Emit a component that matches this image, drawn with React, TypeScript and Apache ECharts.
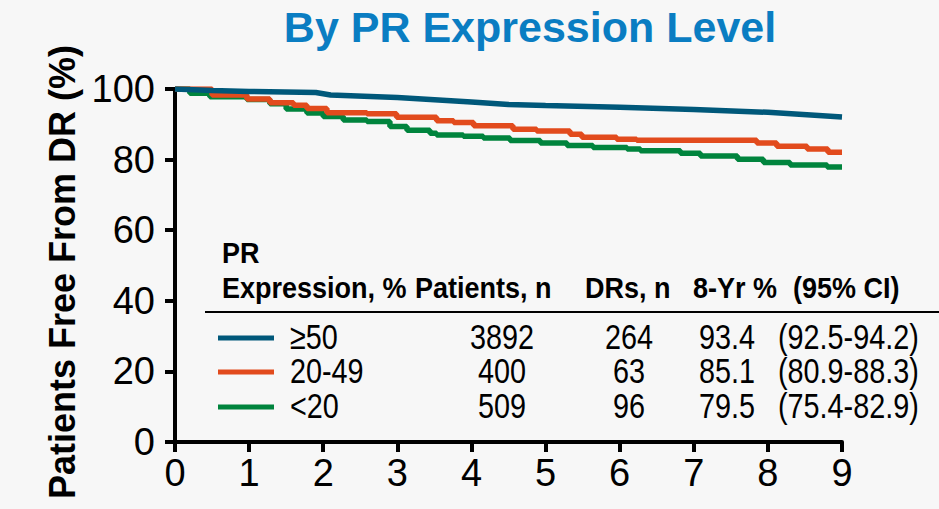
import React, { useEffect, useRef } from "react";
import * as echarts from "echarts";

const title = "By PR Expression Level";
const yAxisTitle = "Patients Free From DR (%)";
const xTicks = [0, 1, 2, 3, 4, 5, 6, 7, 8, 9];
const yTicks = [0, 20, 40, 60, 80, 100];

const seriesNames = ["≥50", "20-49", "<20"];
const seriesColors = ["#00587a", "#e24b1d", "#00843d"];

const highPR: [number, number][] = [
  [0, 100], [0.5, 99.6], [1.0, 99.3], [1.9, 99.0], [2.1, 98.3], [3, 97.6],
  [4, 96.3], [4.5, 95.6], [5, 95.3], [6, 94.8], [7, 94.2], [8, 93.4], [9, 92.1],
];
const midPR: [number, number][] = [
  [0, 100], [0.5, 98.3], [0.97, 97.2], [1.28, 96.1], [1.6, 95.4], [1.78, 94.5],
  [2.05, 93.3], [2.59, 93.0], [2.99, 92.0], [3.53, 91.0], [3.76, 90.5], [4.03, 89.6],
  [4.56, 88.6], [4.88, 88.1], [5.33, 87.2], [5.49, 86.3], [5.96, 85.8], [6.23, 85.5],
  [7.85, 84.7], [8.12, 83.8], [8.53, 83.0], [8.81, 82.1], [9, 82.1],
];
const lowPR: [number, number][] = [
  [0, 100], [0.2, 98.8], [0.47, 97.8], [0.97, 97.0], [1.28, 95.8], [1.5, 94.3],
  [1.78, 93.2], [2.0, 92.2], [2.27, 91.2], [2.59, 90.8], [2.9, 89.4], [3.13, 88.3],
  [3.44, 87.5], [3.53, 87.0], [3.89, 86.6], [4.16, 86.1], [4.52, 85.4], [4.93, 84.7],
  [5.29, 84.0], [5.64, 83.4], [6.1, 83.0], [6.28, 82.5], [6.82, 81.8], [7.09, 81.0],
  [7.59, 80.1], [7.94, 79.2], [8.3, 78.5], [8.8, 77.9], [9, 77.9],
];

const tableHeaderLine1 = "PR";
const tableHeaders = ["Expression, %", "Patients, n", "DRs, n", "8-Yr %", "(95% CI)"];
const patients = ["3892", "400", "509"];
const drs = ["264", "63", "96"];
const eightYr = ["93.4", "85.1", "79.5"];
const ci = ["(92.5-94.2)", "(80.9-88.3)", "(75.4-82.9)"];

const SANS = "'Liberation Sans', Arial, sans-serif";

export default function App() {
  const ref = useRef<HTMLDivElement>(null);
  useEffect(() => {
    if (!ref.current) return;
    const chart = echarts.init(ref.current, null, { renderer: "svg" });

    const rowY = [336, 370, 405];
    const headFont = `bold 30px ${SANS}`;
    const cellFont = `36px ${SANS}`;
    const hs = 0.9;
    const cs = 0.8;
    const headerX = [222, 415, 585, 693, 793];
    const graphics: any[] = [
      {
        type: "text", x: 530, y: 27,
        style: { text: title, fill: "#0a7dc2", font: `bold 43px ${SANS}`, textAlign: "center", textVerticalAlign: "middle" },
      },
      {
        type: "text", x: 62, y: 272, rotation: Math.PI / 2,
        style: { text: yAxisTitle, fill: "#000", font: `bold 36px ${SANS}`, textAlign: "center", textVerticalAlign: "middle" },
      },
      { type: "text", x: 222, y: 252, scaleX: hs, style: { text: tableHeaderLine1, fill: "#000", font: headFont, textVerticalAlign: "middle" } },
      { type: "line", shape: { x1: 205, y1: 312, x2: 939, y2: 312 }, style: { stroke: "#000", lineWidth: 2 } },
    ];
    tableHeaders.forEach((h, i) => {
      graphics.push({ type: "text", x: headerX[i], y: 287, scaleX: hs, style: { text: h, fill: "#000", font: headFont, textVerticalAlign: "middle" } });
    });
    seriesNames.forEach((name, i) => {
      const y = rowY[i];
      graphics.push(
        { type: "line", shape: { x1: 218, y1: y + 2, x2: 274, y2: y + 2 }, style: { stroke: seriesColors[i], lineWidth: 5 } },
        { type: "text", x: 290, y, scaleX: cs, style: { text: name, fill: "#000", font: cellFont, textVerticalAlign: "middle" } },
        { type: "text", x: 502, y, scaleX: cs, style: { text: patients[i], fill: "#000", font: cellFont, textAlign: "center", textVerticalAlign: "middle" } },
        { type: "text", x: 629, y, scaleX: cs, style: { text: drs[i], fill: "#000", font: cellFont, textAlign: "center", textVerticalAlign: "middle" } },
        { type: "text", x: 727, y, scaleX: cs, style: { text: eightYr[i], fill: "#000", font: cellFont, textAlign: "center", textVerticalAlign: "middle" } },
        { type: "text", x: 778, y, scaleX: cs, style: { text: ci[i], fill: "#000", font: cellFont, textVerticalAlign: "middle" } },
      );
    });

    const axisCommon = {
      type: "value" as const,
      axisLine: { show: true, lineStyle: { color: "#000", width: 4 } },
      axisTick: { show: true, length: 10, lineStyle: { color: "#000", width: 4 } },
      splitLine: { show: false },
    };

    chart.setOption({
      animation: false,
      backgroundColor: "#f7f7f7",
      grid: { left: 175, right: 97, top: 89, bottom: 67 },
      xAxis: {
        ...axisCommon,
        min: xTicks[0], max: xTicks[xTicks.length - 1], interval: 1,
        axisLabel: { color: "#000", fontSize: 38, fontFamily: SANS, margin: 12 },
      },
      yAxis: {
        ...axisCommon,
        min: yTicks[0], max: yTicks[yTicks.length - 1], interval: 20,
        axisLabel: { color: "#000", fontSize: 38, fontFamily: SANS, margin: 20 },
      },
      series: [
        { name: seriesNames[2], type: "line", step: "end", data: lowPR, showSymbol: false, lineStyle: { color: seriesColors[2], width: 5.5 }, z: 2 },
        { name: seriesNames[1], type: "line", step: "end", data: midPR, showSymbol: false, lineStyle: { color: seriesColors[1], width: 5.5 }, z: 3 },
        { name: seriesNames[0], type: "line", data: highPR, showSymbol: false, lineStyle: { color: seriesColors[0], width: 5.5 }, z: 4 },
      ],
      graphic: graphics,
    });
    return () => chart.dispose();
  }, []);
  return <div ref={ref} style={{ position: "absolute", left: 0, top: 0, width: 939, height: 509 }} />;
}
